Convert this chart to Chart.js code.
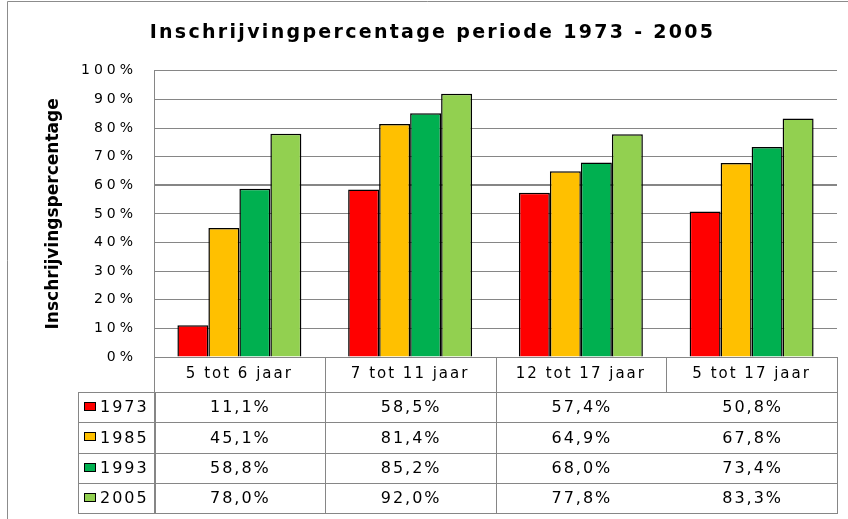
<!DOCTYPE html>
<html>
<head>
<meta charset="utf-8">
<script src="https://cdn.jsdelivr.net/npm/chart.js@4/dist/chart.umd.min.js"></script>
<style>
  html, body { margin: 0; padding: 0; background: #fff; }
  #wrap { width: 848px; height: 519px; }
</style>
</head>
<body>
<div id="wrap"><canvas id="c" width="848" height="519"></canvas></div>
<script>
const chartTitle = 'Inschrijvingpercentage periode 1973 - 2005';
const axisTitle = 'Inschrijvingspercentage';
const categories = ['5 tot 6 jaar', '7 tot 11 jaar', '12 tot 17 jaar', '5 tot 17 jaar'];
const seriesNames = ['1973', '1985', '1993', '2005'];
const values1973 = [11.1, 58.5, 57.4, 50.8];
const values1985 = [45.1, 81.4, 64.9, 67.8];
const values1993 = [58.8, 85.2, 68.0, 73.4];
const values2005 = [78.0, 92.0, 77.8, 83.3];
const yTicks = [0, 10, 20, 30, 40, 50, 60, 70, 80, 90, 100];

const seriesValues = [values1973, values1985, values1993, values2005];
const seriesColors = ['#FF0000', '#FFC000', '#00B050', '#92D050'];
const GRID = '#868686';
const FONT = '"DejaVu Sans", Verdana, sans-serif';

function fmt(v) { return v.toFixed(1).replace('.', ',') + '%'; }

function wrapSpacing(obj, method, spacing, dx) {
  if (!obj || obj['_w_' + method]) return;
  const orig = obj[method];
  obj[method] = function (...args) {
    const c = this.ctx;
    c.save();
    c.letterSpacing = spacing;
    if (dx) c.translate(dx, 0);
    const r = orig.apply(this, args);
    c.restore();
    return r;
  };
  obj['_w_' + method] = true;
}

const framePlugin = {
  id: 'frame',
  beforeDraw(chart) {
    const ctx = chart.ctx;
    ctx.save();
    ctx.fillStyle = '#fff';
    ctx.fillRect(0, 0, chart.width, chart.height);
    ctx.strokeStyle = '#8c8c8c';
    ctx.lineWidth = 1;
    ctx.beginPath();
    ctx.moveTo(7.5, chart.height);
    ctx.lineTo(7.5, 1.5);
    ctx.lineTo(chart.width, 1.5);
    ctx.stroke();
    ctx.restore();
    wrapSpacing(chart.scales.y, 'drawLabels', '4px');
    wrapSpacing(chart.scales.x, 'drawLabels', '2px');
    wrapSpacing(chart.titleBlock, 'draw', '2.3px', 14);
  },
  afterDraw(chart) {
    const ctx = chart.ctx;
    const area = chart.chartArea;
    const xs = chart.scales.x;
    const n = categories.length;
    const bounds = [];
    for (let i = 0; i <= n; i++) {
      bounds.push(i === 0 ? area.left : i === n ? area.right : (xs.getPixelForValue(i - 1) + xs.getPixelForValue(i)) / 2);
    }
    const top = area.bottom;
    const headBottom = top + 35;
    const tableBottom = chart.height - 6;
    const rowH = (tableBottom - headBottom) / seriesNames.length;
    const rowLeft = 78;
    const px = v => Math.round(v) + 0.5;

    ctx.save();
    ctx.strokeStyle = GRID;
    ctx.lineWidth = 1;
    ctx.beginPath();
    for (let i = 0; i <= n; i++) {
      ctx.moveTo(px(bounds[i]), top);
      ctx.lineTo(px(bounds[i]), headBottom);
    }
    for (let r = 0; r <= seriesNames.length; r++) {
      const y = px(headBottom + r * rowH);
      ctx.moveTo(rowLeft, y);
      ctx.lineTo(px(area.right) + 0.5, y);
    }
    const dataV = [rowLeft, bounds[0], bounds[1], bounds[2], bounds[n]];
    for (const xv of dataV) {
      ctx.moveTo(px(xv), headBottom);
      ctx.lineTo(px(xv), tableBottom);
    }
    ctx.stroke();
    ctx.beginPath();
    ctx.moveTo(px(bounds[0]) + 1, headBottom);
    ctx.lineTo(px(bounds[0]) + 1, tableBottom);
    ctx.stroke();

    ctx.fillStyle = '#000';
    ctx.textBaseline = 'middle';
    ctx.font = '16px ' + FONT;
    ctx.letterSpacing = '2px';
    for (let r = 0; r < seriesNames.length; r++) {
      const cy = headBottom + r * rowH + rowH / 2;
      ctx.fillStyle = seriesColors[r];
      ctx.fillRect(84, Math.round(cy) - 5, 12, 9);
      ctx.strokeStyle = '#000';
      ctx.strokeRect(84.5, Math.round(cy) - 4.5, 11, 8);
      ctx.fillStyle = '#000';
      ctx.textAlign = 'left';
      ctx.fillText(seriesNames[r], 100, cy + 1);
      ctx.textAlign = 'center';
      for (let i = 0; i < n; i++) {
        const cx = (bounds[i] + bounds[i + 1]) / 2 + 1;
        ctx.fillText(fmt(seriesValues[r][i]), cx, cy + 1);
      }
    }
    ctx.restore();
  }
};

new Chart(document.getElementById('c'), {
  type: 'bar',
  data: {
    labels: categories,
    datasets: seriesNames.map((name, i) => ({
      label: name,
      data: seriesValues[i],
      backgroundColor: seriesColors[i],
      borderColor: '#000',
      borderWidth: 1.5,
      categoryPercentage: 0.726,
      barPercentage: 1.0
    }))
  },
  options: {
    responsive: false,
    devicePixelRatio: 1,
    animation: false,
    layout: { padding: { left: 0, right: 11, top: 0, bottom: 0 } },
    plugins: {
      legend: { display: false },
      tooltip: { enabled: false },
      title: {
        display: true,
        text: chartTitle,
        color: '#000',
        font: { family: FONT, size: 19, weight: 'bold', lineHeight: 1.2 },
        padding: { top: 22, bottom: 26 }
      }
    },
    scales: {
      x: {
        grid: { display: false, drawTicks: false },
        border: { display: true, color: GRID, width: 1 },
        ticks: { color: '#000', font: { family: FONT, size: 15 }, padding: 8, maxRotation: 0, autoSkip: false },
        afterFit(scale) { scale.height = 162; }
      },
      y: {
        min: 0,
        max: 100,
        afterBuildTicks(scale) { scale.ticks = yTicks.map(v => ({ value: v })); },
        grid: {
          color: GRID,
          drawTicks: false,
          lineWidth: c => (c.tick && c.tick.value === 60 ? 2 : 1)
        },
        border: { display: true, color: GRID, width: 1 },
        ticks: {
          color: '#000',
          font: { family: FONT, size: 14 },
          padding: 17,
          callback: v => v + '%'
        },
        title: {
          display: true,
          text: axisTitle,
          color: '#000',
          font: { family: FONT, size: 17, weight: 'bold', lineHeight: 1.2 },
          padding: { top: 43, bottom: 0 }
        },
        afterFit(scale) { scale.width = 154; }
      }
    }
  },
  plugins: [framePlugin]
});
</script>
</body>
</html>
